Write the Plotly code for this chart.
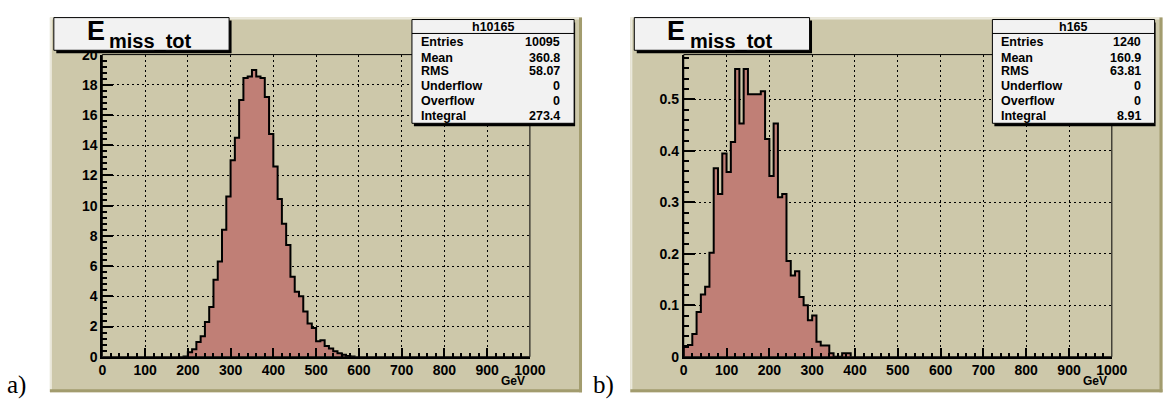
import plotly.graph_objects as go

W, H = 1176, 408
BIN_WIDTH = 10

# ---- data ----
left_start = 190
left_counts = [0.02, 0.3, 0.5, 0.97, 1.35, 2.3, 3.3, 5.1, 6.3, 8.4, 10.6, 13.0, 14.5, 17.0,
               18.45, 18.55, 18.98, 18.55, 18.45, 17.2, 14.75, 12.6, 10.45, 8.8, 7.4, 5.3,
               4.3, 4.0, 3.0, 2.2, 1.9, 1.03, 1.1, 0.72, 0.55, 0.36, 0.23, 0.13, 0.05, 0.02]
right_start = 0
right_counts = [0.019, 0.023, 0.044, 0.087, 0.121, 0.136, 0.202, 0.366, 0.316, 0.395, 0.359,
                0.417, 0.559, 0.453, 0.559, 0.51, 0.51, 0.51, 0.516, 0.423, 0.351, 0.453,
                0.31, 0.316, 0.186, 0.158, 0.166, 0.116, 0.10, 0.071, 0.08, 0.029, 0.022,
                0.022, 0.007, 0.0, 0.0, 0.007, 0.007]
x_ticks = list(range(0, 1001, 100))
x_tick_labels = [str(v) for v in x_ticks]
left_y_ticks = list(range(0, 21, 2))
left_y_labels = [str(v) for v in left_y_ticks]
right_y_ticks = [0, 0.1, 0.2, 0.3, 0.4, 0.5]
right_y_labels = ["0", "0.1", "0.2", "0.3", "0.4", "0.5"]
stat_labels = ["Entries", "Mean", "RMS", "Underflow", "Overflow", "Integral"]
left_name = "h10165"
left_stat_values = ["10095", "360.8", "58.07", "0", "0", "273.4"]
right_name = "h165"
right_stat_values = ["1240", "160.9", "63.81", "0", "0", "8.91"]
title_main = "E"
title_sub = "miss_tot"
x_unit = "GeV"
panel_labels = ["a)", "b)"]

BEIGE = "#cdc8aa"
FILL = "#c07f76"
FONT = "Liberation Sans"


def X(px):
    return px / W


def Y(py):
    return 1 - py / H


def bold(items):
    return ["<b>%s</b>" % t for t in items]


def step_xy(start, counts):
    edges = [start + i * BIN_WIDTH for i in range(len(counts) + 1)]
    xs = [edges[0]] + edges[:-1] + [edges[-1]]
    ys = [0] + list(counts) + [0]
    return xs, ys


fig = go.Figure()
for i, (start, counts) in enumerate([(left_start, left_counts), (right_start, right_counts)]):
    xs, ys = step_xy(start, counts)
    sfx = "" if i == 0 else "2"
    fig.add_trace(go.Scatter(x=xs, y=ys, mode="lines", line=dict(shape="hv", color="black", width=2),
                             fill="tozeroy", fillcolor=FILL, xaxis="x" + sfx, yaxis="y" + sfx,
                             hoverinfo="skip", showlegend=False))

shapes = []
annotations = []
frames = [(100, 535), (691.5, 1127)]
offsets = [0, 590.5]
ydom = [Y(363), Y(48.5)]

for i in range(2):
    off = offsets[i]
    # canvas
    cx0, cx1, cy0, cy1 = 46.7 + off, 588 + off, 10, 400
    shapes.append(dict(type="rect", xref="paper", yref="paper", x0=X(cx0), x1=X(cx1), y0=Y(cy1), y1=Y(cy0),
                       fillcolor=BEIGE, line=dict(width=0), layer="below"))
    shapes.append(dict(type="line", xref="paper", yref="paper", x0=X(cx0 + 1), x1=X(cx0 + 1), y0=Y(cy1), y1=Y(cy0),
                       line=dict(color="#ebe9dc", width=2), layer="below"))
    shapes.append(dict(type="line", xref="paper", yref="paper", x0=X(cx0), x1=X(cx1), y0=Y(cy0 + 1), y1=Y(cy0 + 1),
                       line=dict(color="#ebe9dc", width=2), layer="below"))
    shapes.append(dict(type="line", xref="paper", yref="paper", x0=X(cx1 - 1.5), x1=X(cx1 - 1.5), y0=Y(cy1), y1=Y(cy0),
                       line=dict(color="#a29c6e", width=3), layer="below"))
    shapes.append(dict(type="line", xref="paper", yref="paper", x0=X(cx0), x1=X(cx1), y0=Y(cy1 - 1.5), y1=Y(cy1 - 1.5),
                       line=dict(color="#a29c6e", width=3), layer="below"))
    # frame (thin top/right)
    sfx = "" if i == 0 else "2"
    shapes.append(dict(type="rect", xref="x" + sfx + " domain", yref="y" + sfx + " domain", x0=0, x1=1, y0=0, y1=1,
                       line=dict(color="black", width=1), layer="above"))
    # title box
    tx0, tx1, ty0, ty1 = 50.7 + off, 229 + off, 10, 44
    shapes.append(dict(type="rect", xref="paper", yref="paper", x0=X(tx0 + 2.5), x1=X(tx1 + 2.5), y0=Y(ty1 + 3), y1=Y(ty0 + 3),
                       fillcolor="black", line=dict(width=0), layer="above"))
    shapes.append(dict(type="rect", xref="paper", yref="paper", x0=X(tx0), x1=X(tx1), y0=Y(ty1), y1=Y(ty0),
                       fillcolor="#f2f2f2", line=dict(color="black", width=1), layer="above"))
    annotations.append(dict(xref="paper", yref="paper", x=X(93.5 + off), y=Y(24), text="<b>%s</b>" % title_main,
                            showarrow=False, xanchor="center", yanchor="middle",
                            font=dict(family=FONT, size=27, color="black")))
    annotations.append(dict(xref="paper", yref="paper", x=X(105 + off), y=Y(34.5), text="<b>%s</b>" % title_sub,
                            showarrow=False, xanchor="left", yanchor="middle",
                            font=dict(family=FONT, size=20, color="black")))
    # stats box
    sx0, sx1, sy0, sy1 = 415 + off, 580 + off, 12, 120
    shapes.append(dict(type="rect", xref="paper", yref="paper", x0=X(sx0 + 2), x1=X(sx1 + 1), y0=Y(sy1 + 3), y1=Y(sy0 + 3),
                       fillcolor="black", line=dict(width=0), layer="above"))
    shapes.append(dict(type="rect", xref="paper", yref="paper", x0=X(sx0), x1=X(sx1), y0=Y(sy1), y1=Y(sy0),
                       fillcolor="#f2f2f2", line=dict(color="black", width=1), layer="above"))
    shapes.append(dict(type="line", xref="paper", yref="paper", x0=X(sx0), x1=X(sx1), y0=Y(26.5), y1=Y(26.5),
                       line=dict(color="black", width=1), layer="above"))
    name = left_name if i == 0 else right_name
    vals = left_stat_values if i == 0 else right_stat_values
    annotations.append(dict(xref="paper", yref="paper", x=X((sx0 + sx1) / 2), y=Y(19.5), text="<b>%s</b>" % name,
                            showarrow=False, xanchor="center", yanchor="middle",
                            font=dict(family=FONT, size=12.5, color="black")))
    row_y = [35, 52, 66, 81, 97, 112.5]
    for lab, val, ry in zip(stat_labels, vals, row_y):
        annotations.append(dict(xref="paper", yref="paper", x=X(sx0 + 7), y=Y(ry), text="<b>%s</b>" % lab,
                                showarrow=False, xanchor="left", yanchor="middle",
                                font=dict(family=FONT, size=12.5, color="black")))
        annotations.append(dict(xref="paper", yref="paper", x=X(sx1 - 12), y=Y(ry), text="<b>%s</b>" % val,
                                showarrow=False, xanchor="right", yanchor="middle",
                                font=dict(family=FONT, size=12.5, color="black")))
    # unit label
    annotations.append(dict(xref="paper", yref="paper", x=X(frames[i][1] - 4), y=Y(388.5), text="<b>%s</b>" % x_unit,
                            showarrow=False, xanchor="right", yanchor="middle", borderpad=0,
                            font=dict(family=FONT, size=12, color="black")))
    # panel label
    annotations.append(dict(xref="paper", yref="paper", x=X([1, 597][i]), y=Y(392), text=panel_labels[i],
                            showarrow=False, xanchor="left", yanchor="middle",
                            font=dict(family="Liberation Serif", size=25, color="black")))

axis_common = dict(showline=True, linecolor="black", linewidth=2, mirror=False, ticks="inside",
                   tickcolor="black", tickwidth=1.5, showgrid=True, gridcolor="black", gridwidth=1,
                   griddash="2px,3px", zeroline=False,
                   tickfont=dict(family=FONT, size=14, color="black"))

xaxis_cfg = dict(axis_common, range=[0, 1000], tickvals=x_ticks, ticktext=bold(x_tick_labels), ticklen=9,
                 ticklabelstandoff=-1,
                 minor=dict(dtick=20, ticklen=4, tickwidth=1.5, tickcolor="black", ticks="inside", showgrid=False))

fig.update_layout(
    width=W, height=H, margin=dict(l=0, r=0, t=0, b=0),
    paper_bgcolor="white", plot_bgcolor=BEIGE, showlegend=False,
    xaxis=dict(xaxis_cfg, domain=[X(frames[0][0]), X(frames[0][1])], anchor="y"),
    yaxis=dict(axis_common, domain=ydom, range=[0, 20], tickvals=left_y_ticks, ticktext=bold(left_y_labels),
               ticklen=11, anchor="x",
               minor=dict(dtick=0.4, ticklen=5, tickwidth=1.5, tickcolor="black", ticks="inside", showgrid=False)),
    xaxis2=dict(xaxis_cfg, domain=[X(frames[1][0]), X(frames[1][1])], anchor="y2"),
    yaxis2=dict(axis_common, domain=ydom, range=[0, 0.587], tickvals=right_y_ticks, ticktext=bold(right_y_labels),
                ticklen=11, anchor="x2",
                minor=dict(dtick=0.02, ticklen=5, tickwidth=1.5, tickcolor="black", ticks="inside", showgrid=False)),
    shapes=shapes, annotations=annotations,
)

fig.write_html("out.html",
               post_script="document.body.style.margin='0';document.body.style.overflow='hidden';")
